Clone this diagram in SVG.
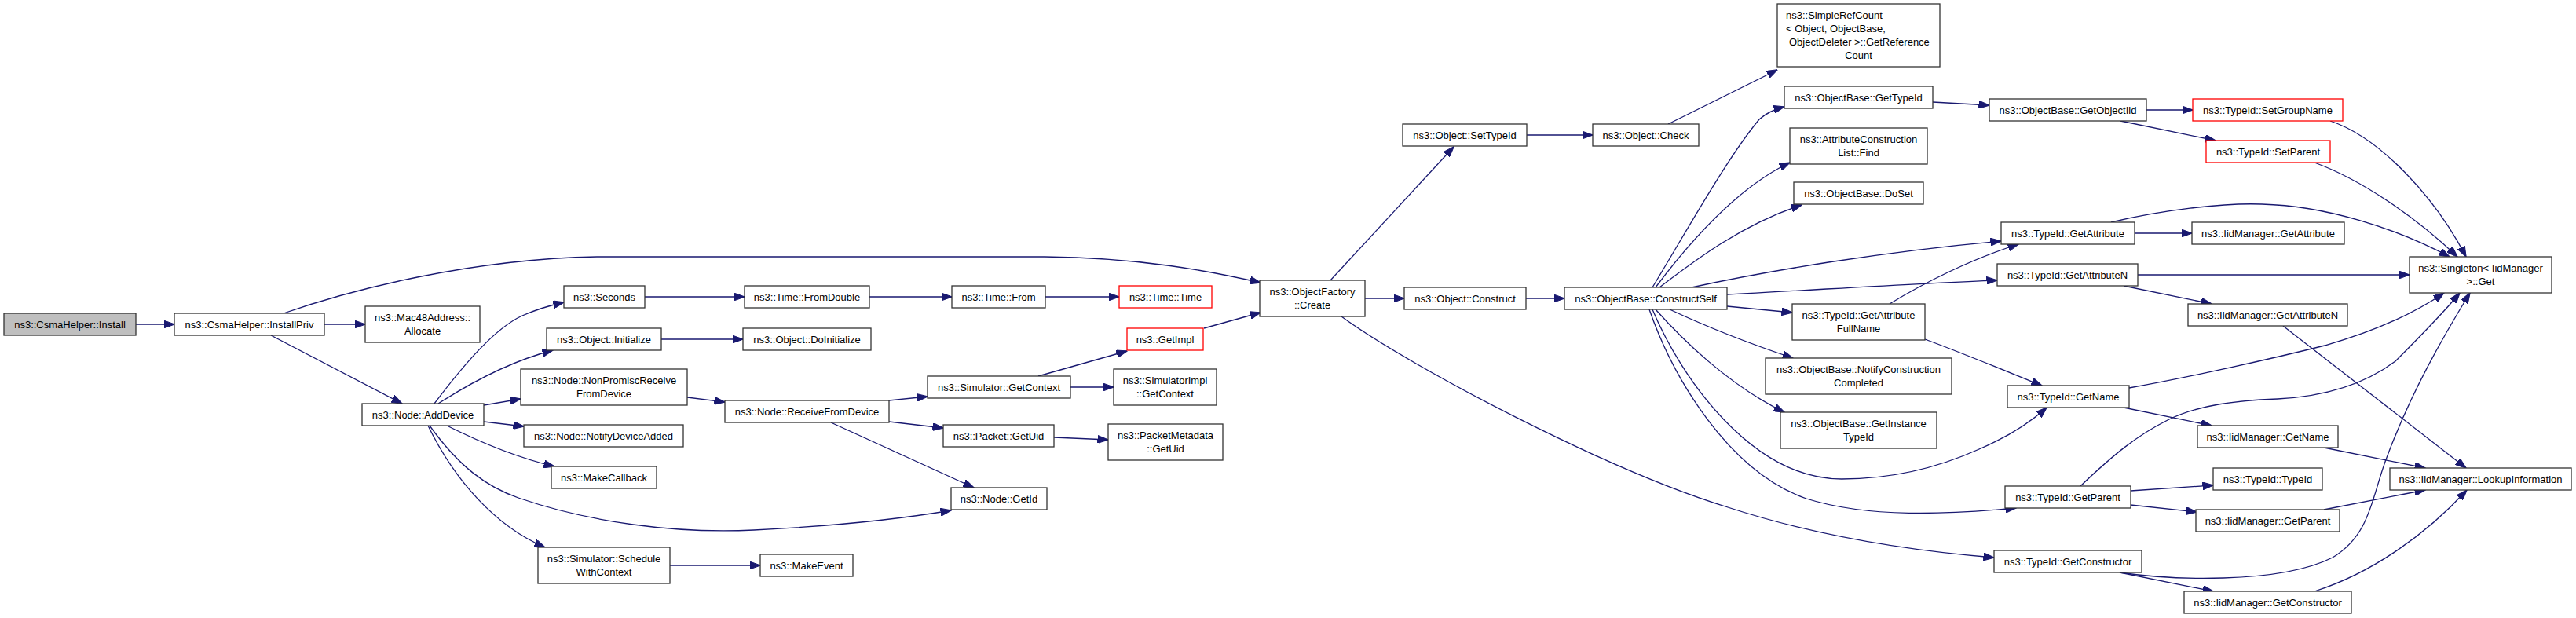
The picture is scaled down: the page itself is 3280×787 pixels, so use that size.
<svg xmlns="http://www.w3.org/2000/svg" width="3280" height="787" viewBox="0 0 3280 787">
<style>
.n rect{fill:#fff;stroke:#333;stroke-width:1.3}
.n.root rect{fill:#bfbfbf}
.n.red rect{stroke:#ff0000}
text{font-family:"Liberation Sans",Arial,Helvetica,sans-serif;font-size:13px;fill:#000;text-anchor:middle}
text.l{text-anchor:start}
.e path{fill:none;stroke:#191970;stroke-width:1.3;marker-end:url(#a)}
</style>
<defs>
<marker id="a" markerUnits="userSpaceOnUse" markerWidth="14" markerHeight="10" refX="13.5" refY="5" orient="auto"><path d="M0,0 L14,5 L0,10 z" fill="#191970" stroke="#191970" stroke-width="1"/></marker>
</defs>
<rect width="3280" height="787" fill="#fff"/>
<g id="edges" class="e">
<path d="M173,413 L222,413"/>
<path d="M413,413 L465,413"/>
<path d="M345,427 L512,514"/>
<path d="M361,399 C450,368 600,330 760,327 L1330,327 C1450,328 1540,345 1605,360"/>
<path d="M553,514 C590,465 630,418 665,402 C683,394 700,389 718,385"/>
<path d="M558,514 C600,487 650,460 704,446"/>
<path d="M616,516 L663,508"/>
<path d="M616,537 L667,543"/>
<path d="M569,542 C605,560 655,582 706,594"/>
<path d="M547,542 C585,595 620,620 660,634 C750,665 860,680 960,675 C1060,670 1140,662 1211,650"/>
<path d="M545,542 C578,610 630,670 694,697"/>
<path d="M821,378 L948,378"/>
<path d="M1107,378 L1212,378"/>
<path d="M1331,378 L1425,378"/>
<path d="M842,432 L946,432"/>
<path d="M875,506 L923,512"/>
<path d="M1132,510 L1181,505"/>
<path d="M1132,537 L1201,545"/>
<path d="M1058,538 L1240,621"/>
<path d="M1322,479 L1435,447"/>
<path d="M1363,493 L1418,493"/>
<path d="M1533,418 L1605,398"/>
<path d="M1342,557 L1411,560"/>
<path d="M853,720 L968,720"/>
<path d="M1694,357 L1851,187"/>
<path d="M1738,380 L1788,380"/>
<path d="M1708,403 C1800,470 2050,600 2200,646 C2320,685 2440,702 2539,710"/>
<path d="M1944,172 L2028,172"/>
<path d="M2124,158 L2263,89"/>
<path d="M1943,380 L1992,380"/>
<path d="M2104,366 C2150,290 2200,200 2240,152 C2250,143 2260,139 2272,136"/>
<path d="M2108,366 C2150,310 2210,240 2279,207"/>
<path d="M2113,366 C2160,330 2220,285 2294,261"/>
<path d="M2154,366 C2250,345 2400,320 2548,307"/>
<path d="M2199,375 C2300,370 2450,360 2543,357"/>
<path d="M2199,390 L2282,398"/>
<path d="M2126,394 C2160,410 2220,435 2283,456"/>
<path d="M2108,394 C2140,430 2200,490 2272,525"/>
<path d="M2104,394 C2140,480 2230,610 2345,610 C2420,610 2480,590 2520,572 C2560,555 2585,538 2606,519"/>
<path d="M2100,394 C2130,480 2200,600 2300,635 C2380,660 2480,655 2567,647"/>
<path d="M2406,387 C2450,360 2510,330 2570,311"/>
<path d="M2451,432 C2500,450 2560,475 2600,491"/>
<path d="M2461,130 L2533,134"/>
<path d="M2733,140 L2792,140"/>
<path d="M2700,154 L2821,179"/>
<path d="M2967,154 C3030,175 3100,250 3140,327"/>
<path d="M2947,207 C3010,230 3080,280 3129,327"/>
<path d="M2688,283 C2750,268 2830,258 2880,260 C2960,262 3050,290 3119,327"/>
<path d="M2718,297 L2791,297"/>
<path d="M2722,350 L3068,350"/>
<path d="M2704,364 L2816,387"/>
<path d="M2907,415 L3140,596"/>
<path d="M2711,494 C2790,480 2900,455 2960,440 C3030,420 3080,395 3112,373"/>
<path d="M2704,519 L2816,542"/>
<path d="M2649,619 C2690,580 2720,555 2760,535 C2800,515 2850,510 2900,508 C2960,505 3010,490 3050,460 C3080,430 3110,400 3132,373"/>
<path d="M2713,625 L2818,618"/>
<path d="M2713,643 L2797,652"/>
<path d="M2959,570 L3088,596"/>
<path d="M2959,649 L3088,624"/>
<path d="M2699,729 C2760,738 2900,745 2970,710 C3020,680 3020,630 3040,580 C3070,500 3110,430 3145,373"/>
<path d="M2699,729 L2818,753"/>
<path d="M2947,753 C3020,730 3090,680 3141,624"/>
</g>
<g id="n1" class="n root"><rect x="5" y="399" width="168" height="28"/><text x="89" y="417.5">ns3::CsmaHelper::Install</text></g>
<g id="n2" class="n"><rect x="222" y="399" width="191" height="28"/><text x="317.5" y="417.5">ns3::CsmaHelper::InstallPriv</text></g>
<g id="n3" class="n"><rect x="465" y="390" width="146" height="46"/><text x="538" y="409">ns3::Mac48Address::</text><text x="538" y="426">Allocate</text></g>
<g id="n4" class="n"><rect x="461" y="514" width="155" height="28"/><text x="538.5" y="532.5">ns3::Node::AddDevice</text></g>
<g id="n5" class="n"><rect x="718" y="364" width="103" height="28"/><text x="769.5" y="382.5">ns3::Seconds</text></g>
<g id="n6" class="n"><rect x="948" y="364" width="159" height="28"/><text x="1027.5" y="382.5">ns3::Time::FromDouble</text></g>
<g id="n7" class="n"><rect x="1212" y="364" width="119" height="28"/><text x="1271.5" y="382.5">ns3::Time::From</text></g>
<g id="n8" class="n red"><rect x="1425" y="364" width="118" height="28"/><text x="1484" y="382.5">ns3::Time::Time</text></g>
<g id="n9" class="n"><rect x="1604" y="357" width="134" height="46"/><text x="1671" y="376">ns3::ObjectFactory</text><text x="1671" y="393">::Create</text></g>
<g id="n10" class="n"><rect x="696" y="418" width="146" height="28"/><text x="769" y="436.5">ns3::Object::Initialize</text></g>
<g id="n11" class="n"><rect x="946" y="418" width="163" height="28"/><text x="1027.5" y="436.5">ns3::Object::DoInitialize</text></g>
<g id="n12" class="n"><rect x="663" y="470" width="212" height="46"/><text x="769" y="489">ns3::Node::NonPromiscReceive</text><text x="769" y="506">FromDevice</text></g>
<g id="n13" class="n"><rect x="923" y="510" width="209" height="28"/><text x="1027.5" y="528.5">ns3::Node::ReceiveFromDevice</text></g>
<g id="n14" class="n"><rect x="667" y="541" width="203" height="28"/><text x="768.5" y="559.5">ns3::Node::NotifyDeviceAdded</text></g>
<g id="n15" class="n"><rect x="702" y="594" width="134" height="28"/><text x="769" y="612.5">ns3::MakeCallback</text></g>
<g id="n16" class="n"><rect x="685" y="697" width="168" height="46"/><text x="769" y="716">ns3::Simulator::Schedule</text><text x="769" y="733">WithContext</text></g>
<g id="n17" class="n"><rect x="968" y="706" width="118" height="28"/><text x="1027" y="724.5">ns3::MakeEvent</text></g>
<g id="n18" class="n red"><rect x="1435" y="418" width="97" height="28"/><text x="1483.5" y="436.5">ns3::GetImpl</text></g>
<g id="n19" class="n"><rect x="1181" y="479" width="182" height="28"/><text x="1272" y="497.5">ns3::Simulator::GetContext</text></g>
<g id="n20" class="n"><rect x="1418" y="470" width="131" height="46"/><text x="1483.5" y="489">ns3::SimulatorImpl</text><text x="1483.5" y="506">::GetContext</text></g>
<g id="n21" class="n"><rect x="1201" y="541" width="141" height="28"/><text x="1271.5" y="559.5">ns3::Packet::GetUid</text></g>
<g id="n22" class="n"><rect x="1411" y="540" width="146" height="46"/><text x="1484" y="559">ns3::PacketMetadata</text><text x="1484" y="576">::GetUid</text></g>
<g id="n23" class="n"><rect x="1211" y="621" width="122" height="28"/><text x="1272" y="639.5">ns3::Node::GetId</text></g>
<g id="n24" class="n"><rect x="1786" y="158" width="158" height="28"/><text x="1865" y="176.5">ns3::Object::SetTypeId</text></g>
<g id="n25" class="n"><rect x="2028" y="158" width="135" height="28"/><text x="2095.5" y="176.5">ns3::Object::Check</text></g>
<g id="n26" class="n"><rect x="1788" y="366" width="155" height="28"/><text x="1865.5" y="384.5">ns3::Object::Construct</text></g>
<g id="n27" class="n"><rect x="1992" y="366" width="207" height="28"/><text x="2095.5" y="384.5">ns3::ObjectBase::ConstructSelf</text></g>
<g id="n28" class="n"><rect x="2263" y="5" width="207" height="80"/><text class="l" x="2274" y="24">ns3::SimpleRefCount</text><text class="l" x="2274" y="41">&lt; Object, ObjectBase,</text><text class="l" x="2278" y="58">ObjectDeleter &gt;::GetReference</text><text x="2366.5" y="75">Count</text></g>
<g id="n29" class="n"><rect x="2272" y="110" width="189" height="28"/><text x="2366.5" y="128.5">ns3::ObjectBase::GetTypeId</text></g>
<g id="n30" class="n"><rect x="2533" y="126" width="200" height="28"/><text x="2633" y="144.5">ns3::ObjectBase::GetObjectIid</text></g>
<g id="n31" class="n"><rect x="2279" y="163" width="175" height="46"/><text x="2366.5" y="182">ns3::AttributeConstruction</text><text x="2366.5" y="199">List::Find</text></g>
<g id="n32" class="n"><rect x="2284" y="232" width="165" height="28"/><text x="2366.5" y="250.5">ns3::ObjectBase::DoSet</text></g>
<g id="n33" class="n"><rect x="2548" y="283" width="170" height="28"/><text x="2633" y="301.5">ns3::TypeId::GetAttribute</text></g>
<g id="n34" class="n"><rect x="2543" y="336" width="179" height="28"/><text x="2632.5" y="354.5">ns3::TypeId::GetAttributeN</text></g>
<g id="n35" class="n"><rect x="2282" y="387" width="169" height="46"/><text x="2366.5" y="406">ns3::TypeId::GetAttribute</text><text x="2366.5" y="423">FullName</text></g>
<g id="n36" class="n"><rect x="2248" y="456" width="237" height="46"/><text x="2366.5" y="475">ns3::ObjectBase::NotifyConstruction</text><text x="2366.5" y="492">Completed</text></g>
<g id="n37" class="n"><rect x="2267" y="525" width="199" height="46"/><text x="2366.5" y="544">ns3::ObjectBase::GetInstance</text><text x="2366.5" y="561">TypeId</text></g>
<g id="n38" class="n"><rect x="2556" y="491" width="155" height="28"/><text x="2633.5" y="509.5">ns3::TypeId::GetName</text></g>
<g id="n39" class="n"><rect x="2553" y="619" width="160" height="28"/><text x="2633" y="637.5">ns3::TypeId::GetParent</text></g>
<g id="n40" class="n"><rect x="2539" y="701" width="188" height="28"/><text x="2633" y="719.5">ns3::TypeId::GetConstructor</text></g>
<g id="n41" class="n red"><rect x="2792" y="126" width="191" height="28"/><text x="2887.5" y="144.5">ns3::TypeId::SetGroupName</text></g>
<g id="n42" class="n red"><rect x="2809" y="179" width="158" height="28"/><text x="2888" y="197.5">ns3::TypeId::SetParent</text></g>
<g id="n43" class="n"><rect x="2791" y="283" width="194" height="28"/><text x="2888" y="301.5">ns3::IidManager::GetAttribute</text></g>
<g id="n44" class="n"><rect x="3068" y="327" width="181" height="46"/><text x="3158.5" y="346">ns3::Singleton&lt; IidManager</text><text x="3158.5" y="363">&gt;::Get</text></g>
<g id="n45" class="n"><rect x="2786" y="387" width="203" height="28"/><text x="2887.5" y="405.5">ns3::IidManager::GetAttributeN</text></g>
<g id="n46" class="n"><rect x="2798" y="542" width="179" height="28"/><text x="2887.5" y="560.5">ns3::IidManager::GetName</text></g>
<g id="n47" class="n"><rect x="3043" y="596" width="231" height="28"/><text x="3158.5" y="614.5">ns3::IidManager::LookupInformation</text></g>
<g id="n48" class="n"><rect x="2818" y="596" width="139" height="28"/><text x="2887.5" y="614.5">ns3::TypeId::TypeId</text></g>
<g id="n49" class="n"><rect x="2796" y="649" width="183" height="28"/><text x="2887.5" y="667.5">ns3::IidManager::GetParent</text></g>
<g id="n50" class="n"><rect x="2781" y="753" width="213" height="28"/><text x="2887.5" y="771.5">ns3::IidManager::GetConstructor</text></g>
</svg>
